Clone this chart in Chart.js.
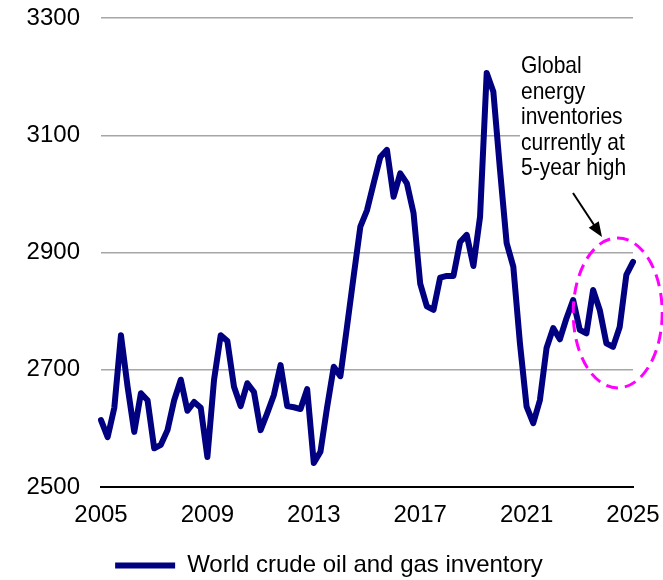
<!DOCTYPE html>
<html>
<head>
<meta charset="utf-8">
<title>World crude oil and gas inventory</title>
<script src="https://cdn.jsdelivr.net/npm/chart.js@4.4.0/dist/chart.umd.min.js"></script>
<style>
  html, body { margin: 0; padding: 0; background: #fff; }
  canvas { display: block; }
</style>
</head>
<body>
<canvas id="inventoryChart" width="663" height="580"></canvas>
<script>
// quarterly readings, 2005 Q1 .. 2025 Q1
const startYear = 2005;
const inventory = [
    2614, 2585, 2635, 2759, 2671, 2594, 2660, 2648, // 2005-2006
    2566, 2572, 2597, 2648, 2683, 2630, 2645, 2635, // 2007-2008
    2551, 2683, 2759, 2749, 2671, 2638, 2677, 2662, // 2009-2010
    2597, 2626, 2657, 2708, 2638, 2636, 2633, 2667, // 2011-2012
    2541, 2560, 2636, 2705, 2689, 2774, 2860, 2944, // 2013-2014
    2972, 3018, 3063, 3075, 2995, 3035, 3018, 2967, // 2015-2016
    2847, 2808, 2802, 2857, 2860, 2860, 2918, 2930, // 2017-2018
    2877, 2961, 3206, 3174, 3041, 2916, 2876, 2745, // 2019-2020
    2637, 2609, 2648, 2737, 2771, 2752, 2788, 2819, // 2021-2022
    2768, 2762, 2836, 2802, 2745, 2739, 2773, 2862, // 2023-2024
    2884, // 2025
];
const xTickYears = [2005, 2009, 2013, 2017, 2021, 2025];
const yMin = 2500;
const yMax = 3300;
const yStep = 200;
const seriesLabel = 'World crude oil and gas inventory';
const noteLines = ['Global', 'energy', 'inventories', 'currently at', '5-year high'];

const quarters = inventory.map((_, i) => `${startYear + Math.floor(i / 4)} Q${(i % 4) + 1}`);

Chart.defaults.font.family = '"Liberation Sans", Arial, sans-serif';
Chart.defaults.color = '#000';

// text, arrow and dashed ring around the latest readings
const highlightNote = {
    id: 'highlightNote',
    afterDraw(chart) {
        const { ctx, scales: { x, y } } = chart;
        ctx.save();

        // note sits on a white box, which hides the 3100 gridline behind it
        ctx.fillStyle = '#fff';
        ctx.fillRect(520, 55, 143, 126);
        ctx.fillStyle = '#000';
        ctx.font = '24px "Liberation Sans", Arial, sans-serif';
        ctx.textBaseline = 'alphabetic';
        noteLines.forEach((line, i) => {
            ctx.save();
            ctx.translate(521, 73 + i * 25.5);
            ctx.scale(0.875, 1);
            ctx.fillText(line, 0, 0);
            ctx.restore();
        });

        // arrow
        const x0 = 573, y0 = 193, x1 = 602, y1 = 237;
        const ang = Math.atan2(y1 - y0, x1 - x0);
        ctx.strokeStyle = '#000';
        ctx.lineWidth = 2;
        ctx.beginPath();
        ctx.moveTo(x0, y0);
        ctx.lineTo(x1 - 12 * Math.cos(ang), y1 - 12 * Math.sin(ang));
        ctx.stroke();
        ctx.beginPath();
        ctx.moveTo(x1, y1);
        ctx.lineTo(x1 - 15 * Math.cos(ang) + 6 * Math.sin(ang), y1 - 15 * Math.sin(ang) - 6 * Math.cos(ang));
        ctx.lineTo(x1 - 15 * Math.cos(ang) - 6 * Math.sin(ang), y1 - 15 * Math.sin(ang) + 6 * Math.cos(ang));
        ctx.closePath();
        ctx.fill();

        // dashed ellipse
        const cx = x.getPixelForValue(77.7);
        const cy = y.getPixelForValue(2797);
        ctx.strokeStyle = '#ff00ff';
        ctx.lineWidth = 3;
        ctx.setLineDash([12, 7]);
        ctx.beginPath();
        ctx.ellipse(cx, cy, 44.5, 75, 0, 0, Math.PI * 2);
        ctx.stroke();

        ctx.restore();
    },
};

const ctx = document.getElementById('inventoryChart').getContext('2d');

const chart = new Chart(ctx, {
    type: 'line',
    data: {
        labels: quarters,
        datasets: [
            {
                label: seriesLabel,
                data: inventory,
                borderColor: '#000080',
                backgroundColor: '#000080',
                borderWidth: 6,
                borderJoinStyle: 'round',
                borderCapStyle: 'round',
                pointRadius: 0,
                pointStyle: 'line',
                tension: 0,
            },
        ],
    },
    options: {
        responsive: false,
        animation: false,
        devicePixelRatio: 1,
        layout: { padding: { top: 18, right: 30, bottom: -7.5, left: 25 } },
        plugins: {
            tooltip: { enabled: false },
            legend: {
                position: 'bottom',
                labels: {
                    usePointStyle: true,
                    pointStyleWidth: 60,
                    padding: 0,
                    color: '#000',
                    font: { size: 24 },
                },
            },
        },
        scales: {
            x: {
                offset: false,
                grid: {
                    display: true,
                    drawOnChartArea: false,
                    drawTicks: true,
                    tickLength: 14,
                    color: 'rgba(0,0,0,0)',
                    tickColor: 'rgba(0,0,0,0)',
                },
                border: { color: '#000', width: 2 },
                ticks: {
                    autoSkip: false,
                    maxRotation: 0,
                    padding: 0,
                    font: { size: 24 },
                    callback: (value, index) => {
                        const [year, q] = quarters[index].split(' Q');
                        return q === '1' && xTickYears.includes(+year) ? year : '';
                    },
                },
                afterFit: (scale) => { scale.height = 66.5; },
            },
            y: {
                min: yMin,
                max: yMax,
                grid: {
                    color: '#a6a6a6',
                    lineWidth: 1.5,
                    drawTicks: true,
                    tickLength: 21,
                    tickColor: 'rgba(0,0,0,0)',
                },
                border: { display: false },
                ticks: {
                    stepSize: yStep,
                    padding: 0,
                    font: { size: 24 },
                    callback: (value) => String(value),
                },
                afterFit: (scale) => { scale.width = 76; },
            },
        },
    },
    plugins: [highlightNote],
});
</script>
</body>
</html>
